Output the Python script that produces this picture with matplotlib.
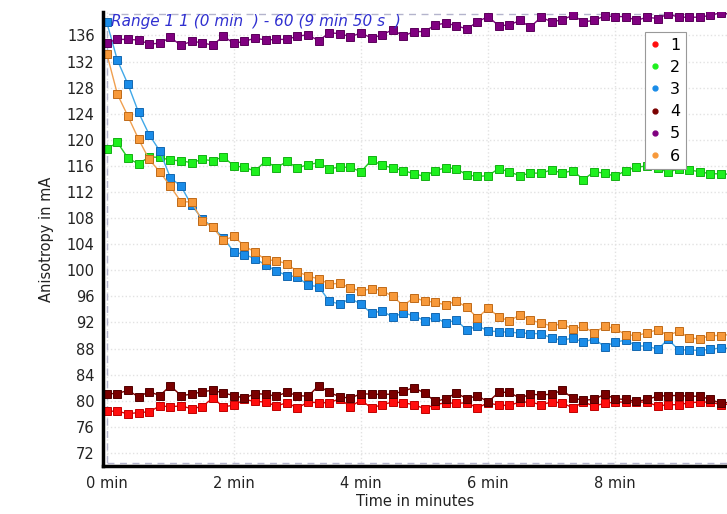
import matplotlib
matplotlib.use("Agg")
import matplotlib.pyplot as plt
from matplotlib.lines import Line2D
from matplotlib.patches import Rectangle

# 60 samples, one every 10 s (0 min .. 9 min 50 s)
t_min = [i * 10 / 60 for i in range(60)]

s1 = [78.4, 78.4, 78.0, 78.2, 78.3, 79.2, 79.1, 79.2, 78.8, 79.1,
      80.4, 79.1, 79.3, 80.2, 79.9, 79.8, 79.2, 79.7, 78.9, 79.8,
      79.7, 79.7, 80.3, 79.1, 80.1, 78.9, 79.4, 79.8, 79.7, 79.4,
      78.8, 79.4, 79.7, 79.6, 79.7, 78.9, 79.7, 79.3, 79.3, 79.8,
      79.8, 79.4, 79.8, 79.7, 78.9, 79.8, 79.2, 79.6, 79.8, 79.8,
      79.8, 79.8, 79.2, 79.4, 79.4, 79.7, 79.8, 79.8, 79.4, 79.5]
s2 = [118.6, 119.6, 117.2, 116.3, 117.4, 117.3, 116.9, 116.8, 116.5, 117.0,
      116.8, 117.4, 116.0, 115.8, 115.2, 116.8, 115.7, 116.7, 115.7, 116.2,
      116.5, 115.6, 115.8, 115.8, 115.1, 116.9, 116.1, 115.7, 115.3, 114.8,
      114.4, 115.3, 115.7, 115.6, 114.6, 114.4, 114.5, 115.6, 115.1, 114.5,
      114.9, 114.9, 115.4, 114.9, 115.3, 113.9, 115.1, 114.9, 114.4, 115.3,
      115.8, 116.0, 115.7, 115.0, 115.6, 115.4, 115.1, 114.8, 114.8, 114.7]
s3 = [138.0, 132.2, 128.5, 124.2, 120.8, 118.3, 114.2, 112.9, 110.0, 107.9,
      106.6, 105.0, 102.8, 102.4, 101.8, 100.8, 99.9, 99.2, 99.0, 97.7,
      97.5, 95.3, 94.8, 95.7, 94.8, 93.4, 93.8, 92.8, 93.5, 93.0,
      92.3, 92.8, 91.9, 92.4, 90.8, 91.5, 90.7, 90.6, 90.5, 90.4,
      90.3, 90.3, 89.6, 89.3, 89.6, 89.0, 89.5, 88.3, 89.0, 89.3,
      88.4, 88.4, 87.9, 89.4, 87.8, 87.8, 87.7, 87.9, 88.1, 88.0]
s4 = [81.1, 81.1, 81.6, 80.6, 81.4, 80.8, 82.3, 80.8, 81.0, 81.4,
      81.6, 81.2, 80.8, 80.4, 81.1, 81.0, 80.7, 81.3, 80.8, 80.7,
      82.3, 81.3, 80.6, 80.4, 81.1, 81.0, 81.0, 81.0, 81.5, 82.0,
      81.2, 79.9, 80.3, 81.2, 80.3, 80.8, 79.8, 81.3, 81.3, 80.4,
      81.0, 80.9, 81.0, 81.6, 80.4, 80.1, 80.2, 81.0, 80.3, 80.2,
      79.9, 80.2, 80.7, 80.8, 80.8, 80.7, 80.7, 80.2, 79.6, 79.8]
s5 = [134.9, 135.4, 135.4, 135.3, 134.7, 134.8, 135.7, 134.5, 135.1, 134.9,
      134.5, 135.9, 134.8, 135.1, 135.6, 135.3, 135.4, 135.4, 135.9, 136.1,
      135.2, 136.4, 136.3, 135.8, 136.4, 135.6, 136.1, 136.9, 135.9, 136.6,
      136.6, 137.6, 137.9, 137.5, 137.0, 138.1, 138.9, 137.5, 137.6, 138.3,
      137.3, 138.8, 138.1, 138.4, 139.1, 138.1, 138.3, 139.0, 138.9, 138.9,
      138.3, 138.8, 138.6, 139.3, 138.8, 138.8, 138.8, 139.1, 139.5, 139.2]
s6 = [133.2, 127.0, 123.6, 120.1, 117.0, 115.1, 112.9, 110.5, 110.5, 107.6,
      106.6, 104.6, 105.2, 103.7, 102.8, 101.6, 101.5, 101.0, 99.8, 99.1,
      98.7, 97.9, 98.0, 97.3, 96.8, 97.2, 96.9, 96.0, 94.6, 95.8,
      95.3, 95.1, 94.7, 95.3, 94.3, 92.7, 94.2, 92.9, 92.2, 93.2,
      92.4, 91.9, 91.5, 91.8, 91.0, 91.4, 90.4, 91.4, 91.1, 90.1,
      90.0, 90.4, 90.9, 90.0, 90.7, 89.6, 89.5, 90.0, 90.0, 90.2]

series = [s1, s2, s3, s4, s5, s6]
labels = ["1", "2", "3", "4", "5", "6"]
# (marker face, marker edge, line colour)
colors = [("#ff0d0d", "#c00000", "#e00000"),
          ("#1ef01e", "#14b014", "#22cc22"),
          ("#1a8ce8", "#1468b0", "#40a8e8"),
          ("#7a0000", "#500000", "#800000"),
          ("#800080", "#5a005a", "#800080"),
          ("#f7993a", "#c06a18", "#f0a050")]

y_ticks = list(range(72, 137, 4))
x_ticks = [0, 2, 4, 6, 8]
x_labels = ["0 min", "2 min", "4 min", "6 min", "8 min"]

fig = plt.figure(figsize=(7.27, 5.14), dpi=100)
ax = fig.add_axes([103 / 727, 48 / 514, 624 / 727, 454 / 514])

for s, (fc, ec, lc) in zip(series, colors):
    ax.plot(t_min, s, color=lc, lw=1.0, marker="s", ms=5.3,
            markerfacecolor=fc, markeredgecolor=ec, markeredgewidth=0.7)

ax.set_xlim(-0.06, 9.76)
ax.set_ylim(70.0, 139.6)
ax.set_xticks(x_ticks)
ax.set_xticklabels(x_labels)
ax.set_yticks(y_ticks)

ax.grid(True, color="#e2e2e2", lw=1.0, ls=":")
ax.set_axisbelow(True)

# dashed range frame
ax.add_patch(Rectangle((0, 70.4), 20, 139.3 - 70.4, fill=False,
                       ls=(0, (5, 4)), lw=1.0, ec="#b4b4cc", zorder=1))

for sp in ["top", "right"]:
    ax.spines[sp].set_visible(False)
for sp in ["left", "bottom"]:
    ax.spines[sp].set_linewidth(2.5)
    ax.spines[sp].set_color("black")
ax.tick_params(length=0, labelsize=10.5, colors="#222222")
ax.tick_params(axis="y", pad=6)
ax.tick_params(axis="x", pad=7)

ax.set_xlabel("Time in minutes", fontsize=10.5, color="#222222", labelpad=2)
ax.set_ylabel("Anisotropy in mA", fontsize=10.5, color="#222222", labelpad=9)

ax.text(0.07, 139.25, "Range 1 1 (0 min  ) - 60 (9 min 50 s  )", color="#3030d0",
        style="italic", fontsize=11, va="top", ha="left")

handles = [Line2D([], [], ls="none", marker="o", ms=3.5, markerfacecolor=fc,
                  markeredgecolor=fc) for fc, ec, lc in colors]
leg = ax.legend(handles, labels, loc="upper left", bbox_to_anchor=(0.8686, 0.956),
                borderaxespad=0, fancybox=False, framealpha=1, edgecolor="#999999",
                fontsize=11.5, handlelength=0.6, handletextpad=0.6, labelspacing=0.45,
                borderpad=0.35)
leg.get_frame().set_linewidth(0.8)

fig.savefig("out.png", dpi=100)
